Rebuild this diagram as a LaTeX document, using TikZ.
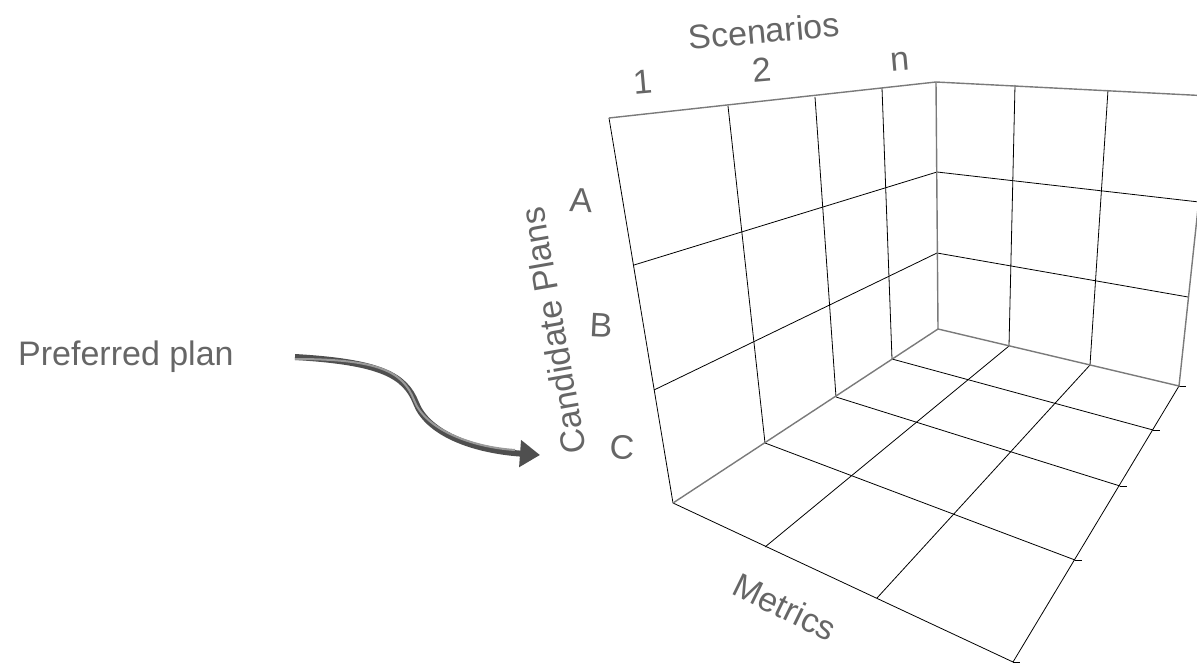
\documentclass[tikz,border=0pt]{standalone}
\usepackage{fontspec}
\setmainfont{Liberation Sans}
\usetikzlibrary{arrows.meta}
\definecolor{txtgray}{HTML}{666666}
\definecolor{edgegray}{HTML}{7A7A7A}
\definecolor{arrowdark}{HTML}{4F4F4F}
\definecolor{arrowlight}{HTML}{9A9A9A}

\begin{document}
\begin{tikzpicture}[x=1pt,y=-1pt,
  grid/.style={black, line width=0.8pt},
  edge/.style={edgegray, line width=1.4pt},
  lbl/.style={txtgray, font=\fontsize{34}{40}\selectfont, inner sep=0pt}]
  \useasboundingbox (0,0) rectangle (1197,663);
  \clip (0,0) rectangle (1197,663);

  % left wall: scenarios against plans
  \coordinate (t0) at (609,118);
  \coordinate (t1) at (728,106);
  \coordinate (t2) at (815,97);
  \coordinate (t3) at (882,88);
  \coordinate (t4) at (936,82);
  \coordinate (b0) at (673,503);
  \coordinate (b1) at (765,443);
  \coordinate (b2) at (836,397);
  \coordinate (b3) at (892,359);
  \coordinate (b4) at (938,329);
  \coordinate (la) at (634,265);
  \coordinate (lb) at (654,390);
  \coordinate (ca) at (937,172);
  \coordinate (cb) at (937,253);

  % back wall
  \coordinate (k1) at (1009,346);
  \coordinate (k2) at (1090,365);
  \coordinate (r0) at (1179,386);
  \coordinate (u1) at (1015,85);
  \coordinate (u2) at (1108,90);
  \coordinate (u3) at (1210,96);
  \coordinate (ra) at (1199,202);
  \coordinate (rb) at (1188,297);

  % floor
  \coordinate (f1) at (765,547);
  \coordinate (f2) at (877,598);
  \coordinate (r1) at (1153,430);
  \coordinate (r2) at (1120,486);
  \coordinate (r3) at (1075,560);
  \coordinate (r4) at (1013,662);

  \draw[grid] (t1) -- (b1) (t2) -- (b2) (t3) -- (b3);
  \draw[grid] (la) -- (ca) (lb) -- (cb);
  \draw[grid] (u1) -- (k1) (u2) -- (k2);
  \draw[grid] (ca) -- (ra) (cb) -- (rb);
  \draw[grid] (b1) -- (r3) (b2) -- (r2) (b3) -- (r1);
  \draw[grid] (f1) -- (k1) (f2) -- (k2);
  \draw[grid] (t0) -- (b0) -- (r4) -- (r0);
  \foreach \p in {r0,r1,r2,r3,r4}
    \draw[grid] (\p) -- ++(7,0);

  \draw[edge] (t0) -- (t4) -- (u3);
  \draw[edge] (t4) -- (b4);
  \draw[edge] (b0) -- (b4) -- (r0) -- (u3);

  % labels
  \node[lbl, rotate=5] (scen) at (764,31) {Scenarios};
  \node[lbl, rotate=5] (s1) at (643,82) {1};
  \node[lbl, rotate=5] (s2) at (762,70) {2};
  \node[lbl, rotate=5] (sn) at (900,62) {n};
  \node[lbl, rotate=-3] (pa) at (581,200) {A};
  \node[lbl, rotate=-3] (pb) at (601,325) {B};
  \node[lbl, rotate=-3] (pc) at (622,447) {C};
  \node[lbl, rotate=100] (cand) at (553,331) {Candidate Plans};
  \node[lbl, rotate=-26] (metr) at (785,607) {Metrics};
  \node[lbl, anchor=base west] (pref) at (18,365) {Preferred plan};

  % arrow to the chosen row
  \coordinate (a0) at (295,357);
  \coordinate (a1) at (540,455);
  \draw[arrowdark, line width=6pt, -{Triangle[length=20pt,width=26pt]}]
    (a0) .. controls (380,362) and (405,375) .. (416,403)
         .. controls (427,432) and (470,450) .. (a1);
  \draw[arrowlight, line width=2pt]
    ([yshift=-2pt]a0) .. controls (380,359) and (403,372) .. (414,400)
         .. controls (425,429) and (470,447) .. (515,450);
\end{tikzpicture}
\end{document}
